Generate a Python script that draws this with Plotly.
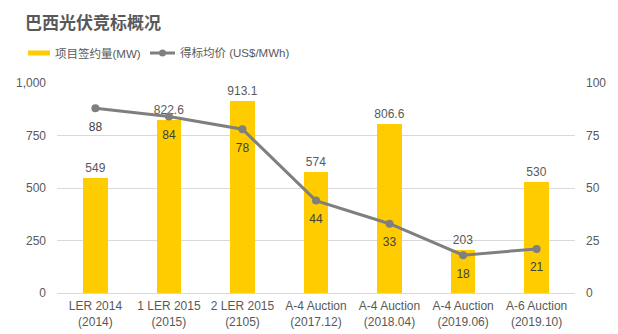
import plotly.graph_objects as go

categories = ["LER 2014<br>(2014)", "1 LER 2015<br>(2015)", "2 LER 2015<br>(2105)",
              "A-4 Auction<br>(2017.12)", "A-4 Auction<br>(2018.04)",
              "A-4 Auction<br>(2019.06)", "A-6 Auction<br>(2019.10)"]
capacity_mw = [549, 822.6, 913.1, 574, 806.6, 203, 530]
capacity_labels = ["549", "822.6", "913.1", "574", "806.6", "203", "530"]
price_usd = [88, 84, 78, 44, 33, 18, 21]
left_ticks = [0, 250, 500, 750, 1000]
left_tick_text = ["0", "250", "500", "750", "1,000"]
right_ticks = [0, 25, 50, 75, 100]
series_names = ["项目签约量(MW)", "得标均价 (US$/MWh)"]

FONT = "Liberation Sans, Noto Sans CJK SC, sans-serif"
GRAY = "#595959"
BAR_COLOR = "#FFCC00"
LINE_COLOR = "#7F7F7F"

W, H = 618, 334
L, R, T, B = 57, 43, 83, 41
PW, PH = W - L - R, H - T - B


def px(x):
    return (x - L) / PW


def py(y):
    return (H - B - y) / PH


fig = go.Figure()
fig.add_trace(go.Bar(
    x=categories, y=capacity_mw, name=series_names[0],
    marker=dict(color=BAR_COLOR, line=dict(width=0)),
    width=0.33,
    text=capacity_labels, textposition="outside", constraintext="none", textangle=0,
    textfont=dict(size=12, color=GRAY, family=FONT),
    cliponaxis=False, showlegend=False,
))
fig.add_trace(go.Scatter(
    x=categories, y=price_usd, name=series_names[1], yaxis="y2",
    mode="lines+markers",
    line=dict(color=LINE_COLOR, width=3),
    marker=dict(color=LINE_COLOR, size=8),
    cliponaxis=False, showlegend=False,
))
# labels for the price line (transparent larger markers push text further below)
fig.add_trace(go.Scatter(
    x=categories, y=price_usd, yaxis="y2", mode="markers+text",
    marker=dict(color="rgba(0,0,0,0)", size=20),
    text=[str(v) for v in price_usd], textposition="bottom center",
    textfont=dict(size=12, color="#404040", family=FONT),
    cliponaxis=False, showlegend=False, hoverinfo="skip",
))

# custom legend
shapes = [
    dict(type="rect", xref="paper", yref="paper", x0=px(28), x1=px(50), y0=py(55.5), y1=py(50.5),
         fillcolor=BAR_COLOR, line=dict(width=0)),
    dict(type="line", xref="paper", yref="paper", x0=px(150), x1=px(175), y0=py(53), y1=py(53),
         line=dict(color=LINE_COLOR, width=3)),
    dict(type="circle", xref="paper", yref="paper", x0=px(159), x1=px(166), y0=py(56.5), y1=py(49.5),
         fillcolor=LINE_COLOR, line=dict(width=0)),
]
annotations = [
    dict(text=series_names[0], xref="paper", yref="paper", x=px(53), y=py(53),
         xanchor="left", yanchor="middle", showarrow=False,
         font=dict(size=11.5, color=GRAY, family=FONT)),
    dict(text=series_names[1], xref="paper", yref="paper", x=px(178), y=py(53),
         xanchor="left", yanchor="middle", showarrow=False,
         font=dict(size=11.5, color=GRAY, family=FONT)),
]

fig.update_layout(
    width=W, height=H,
    margin=dict(l=L, r=R, t=T, b=B),
    paper_bgcolor="white", plot_bgcolor="white",
    font=dict(family=FONT, color=GRAY, size=12),
    title=dict(text="<b>巴西光伏竞标概况</b>", x=25/W, xanchor="left",
               y=1-23/H, yanchor="middle",
               font=dict(size=17, color=GRAY, family=FONT)),
    showlegend=False,
    shapes=shapes, annotations=annotations,
    bargap=0,
    xaxis=dict(showgrid=False, showline=True, linecolor="#D9D9D9", linewidth=1,
               ticks="", tickfont=dict(size=12, color=GRAY), automargin=False,
               ticklabelstandoff=2),
    yaxis=dict(range=[0, 1000], tickvals=left_ticks, ticktext=left_tick_text,
               showgrid=True, gridcolor="#D9D9D9", gridwidth=1, zeroline=False,
               showline=False, ticks="", ticklabelstandoff=10, automargin=False,
               tickfont=dict(size=12, color=GRAY)),
    yaxis2=dict(range=[0, 100], tickvals=right_ticks, overlaying="y", side="right",
                showgrid=False, zeroline=False, showline=False, ticks="",
                ticklabelstandoff=10, automargin=False,
                tickfont=dict(size=12, color=GRAY)),
)

fig.write_html("out.html")
